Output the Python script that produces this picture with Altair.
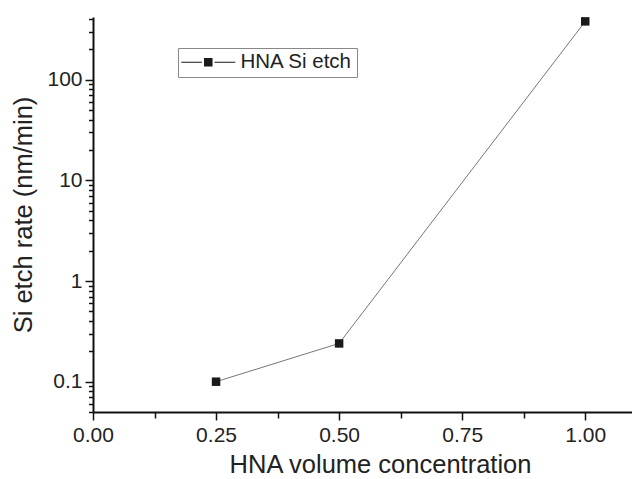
import altair as alt
import pandas as pd

# data
concentration = [0.25, 0.50, 1.00]
etch_rate = [0.10, 0.24, 380.0]
series = ["HNA Si etch", "HNA Si etch", "HNA Si etch"]

x_ticks = [0.0, 0.125, 0.25, 0.375, 0.5, 0.625, 0.75, 0.875, 1.0]
y_ticks = ([0.05, 0.06, 0.07, 0.08, 0.09]
           + [m * 0.1 for m in range(1, 10)]
           + [m * 1.0 for m in range(1, 10)]
           + [m * 10.0 for m in range(1, 10)]
           + [100.0, 200.0, 300.0, 400.0])

df = pd.DataFrame({"c": concentration, "r": etch_rate, "s": series})

FONT = "Liberation Sans"
y_major = "abs(log(datum.value)/LN10 - round(log(datum.value)/LN10)) < 1e-6"
x_major = "abs(datum.value*4 - round(datum.value*4)) < 1e-6"

x_enc = alt.X(
    "c:Q",
    scale=alt.Scale(domain=[0, 1.095], nice=False, zero=False),
    axis=alt.Axis(
        title="HNA volume concentration",
        values=x_ticks,
        labelExpr=f"{x_major} ? format(datum.value, '.2f') : ''",
        tickSize={"condition": {"test": x_major, "value": 8}, "value": 6},
        grid=False, domainColor="#111", domainWidth=2, tickColor="#111", tickWidth=1.5,
        labelFont=FONT, labelFontSize=21, labelColor="#222", labelPadding=4,
        titleFont=FONT, titleFontSize=25.5, titleFontWeight="normal", titleColor="#222",
        titleX=287, titlePadding=7, labelFlush=False,
    ),
)
y_enc = alt.Y(
    "r:Q",
    scale=alt.Scale(type="log", domain=[0.05, 420], nice=False),
    axis=alt.Axis(
        title="Si etch rate (nm/min)",
        values=y_ticks,
        labelExpr=f"{y_major} ? format(datum.value, '~g') : ''",
        tickSize={"condition": {"test": y_major, "value": 8}, "value": 4.5},
        grid=False, domainColor="#111", domainWidth=2, tickColor="#111", tickWidth=1.5,
        labelFont=FONT, labelFontSize=21, labelColor="#222", labelPadding=3,
        titleFont=FONT, titleFontSize=25.5, titleFontWeight="normal", titleColor="#222",
        titlePadding=10, labelFlush=False,
    ),
)

line = alt.Chart(df).mark_line(color="#666", strokeWidth=0.9).encode(x=x_enc, y=y_enc)

legend_path = ("M-6,-0.12H-1.4V0.12H-6Z "
               "M-0.95,-0.95H0.95V0.95H-0.95Z "
               "M1.4,-0.12H6V0.12H1.4Z")

points = alt.Chart(df).mark_point(shape="square", filled=True, size=72, opacity=1).encode(
    x=x_enc,
    y=y_enc,
    color=alt.Color(
        "s:N",
        scale=alt.Scale(range=["#1a1a1a"]),
        legend=alt.Legend(
            title=None, orient="none", legendX=85, legendY=31,
            symbolType=legend_path, symbolSize=81, symbolFillColor="#1a1a1a",
            symbolStrokeWidth=0, symbolOffset=16, labelOffset=22,
            labelExpr="datum.label + '\u2007\u2007'",
            labelFont=FONT, labelFontSize=20.5, labelColor="#222",
            strokeColor="#888", fillColor="white", padding=4, cornerRadius=0,
        ),
    ),
)

chart = (
    alt.layer(line, points)
    .properties(width=539, height=395, padding={"left": 93, "top": 17, "right": 0, "bottom": 67},
                autosize=alt.AutoSizeParams(type="none"), background="white")
    .configure_view(stroke=None)
)

chart.save("out.html", embed_options={"renderer": "svg", "actions": False})
